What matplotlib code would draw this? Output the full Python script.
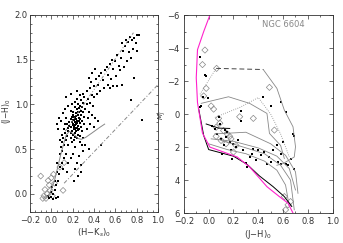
import numpy as np
import matplotlib
matplotlib.use('Agg')
import matplotlib.pyplot as plt
from matplotlib.ticker import MultipleLocator

# ---- left panel: (H-Ks)0 vs (J-H)0 ----
hk_dots = [0.22, 0.20, 0.24, 0.18, 0.26, 0.21, 0.23, 0.19, 0.25, 0.17,
           0.28, 0.27, 0.16, 0.22, 0.20, 0.24, 0.30, 0.29, 0.15, 0.18,
           0.21, 0.25, 0.23, 0.19, 0.26, 0.28, 0.31, 0.32, 0.33, 0.30,
           0.27, 0.25, 0.22, 0.18, 0.14, 0.13, 0.12, 0.14, 0.16, 0.19,
           0.24, 0.27, 0.29, 0.31, 0.34, 0.35, 0.36, 0.34, 0.31, 0.28,
           0.26, 0.23, 0.21, 0.20, 0.22, 0.24, 0.26, 0.19, 0.17, 0.21,
           0.23, 0.25, 0.18, 0.20, 0.22, 0.16, 0.15, 0.13, 0.11, 0.10,
           0.09, 0.12, 0.10, 0.08, 0.07, 0.09, 0.11, 0.13, 0.16, 0.19,
           0.22, 0.24, 0.27, 0.30, 0.33, 0.36, 0.38, 0.40, 0.37, 0.39,
           0.38, 0.41, 0.44, 0.36, 0.40, 0.33, 0.30, 0.27, 0.29, 0.22,
           0.06, 0.05, 0.14, 0.18, 0.24, 0.20, 0.22, 0.25, 0.18, 0.23,
           0.21, 0.23, 0.25, 0.27, 0.24, 0.22, 0.20, 0.26, 0.28, 0.29,
           0.42, 0.45, 0.44, 0.47, 0.50, 0.48, 0.52, 0.55, 0.53, 0.57,
           0.58, 0.60, 0.62, 0.63, 0.65, 0.67, 0.66, 0.69, 0.70, 0.72,
           0.74, 0.76, 0.78, 0.80, 0.82, 0.79, 0.77, 0.73, 0.75, 0.71,
           0.68, 0.64, 0.61, 0.56, 0.53, 0.49, 0.46, 0.43, 0.40, 0.80,
           0.78, 0.75, 0.85, 0.66, 0.62, 0.58, 0.55, 0.35, 0.38, 0.41,
           0.30, 0.26, 0.24, 0.22, 0.25, 0.28, 0.32, 0.35, 0.47, 0.20,
           0.18, 0.16, 0.14, 0.12, 0.10, 0.11, 0.08, 0.07, 0.05, 0.06,
           0.04, 0.03, 0.02, 0.00, -0.02, 0.04, 0.06, 0.01, 0.03, 0.05,
           0.08, 0.10, 0.28, 0.21, 0.15, 0.00, -0.03, 0.02]
jh_dots = [0.80, 0.78, 0.82, 0.75, 0.85, 0.72, 0.90, 0.86, 0.76, 0.80,
           0.88, 0.79, 0.70, 0.68, 0.92, 0.95, 0.92, 0.82, 0.65, 0.62,
           0.60, 0.66, 0.74, 0.70, 0.72, 0.75, 0.86, 0.95, 1.00, 1.02,
           0.98, 1.00, 0.97, 0.93, 0.85, 0.78, 0.72, 0.60, 0.55, 0.58,
           0.62, 0.65, 0.70, 0.78, 0.85, 0.92, 1.02, 1.06, 1.08, 1.05,
           0.92, 0.84, 0.86, 0.83, 0.77, 0.79, 0.81, 0.80, 0.76, 0.75,
           0.70, 0.71, 0.68, 0.66, 0.64, 0.74, 0.78, 0.68, 0.63, 0.58,
           0.52, 0.55, 0.66, 0.60, 0.85, 0.82, 0.90, 0.95, 0.98, 1.00,
           1.03, 1.06, 1.10, 1.12, 1.15, 1.18, 1.10, 1.20, 1.25, 0.98,
           0.88, 0.85, 0.82, 0.78, 0.75, 0.72, 0.62, 0.58, 0.55, 0.53,
           0.72, 0.78, 1.08, 1.12, 1.15, 0.88, 0.85, 0.88, 0.84, 0.78,
           0.83, 0.87, 0.91, 0.84, 0.74, 0.73, 0.77, 0.96, 0.93, 0.97,
           1.28, 1.32, 1.22, 1.35, 1.38, 1.27, 1.42, 1.45, 1.33, 1.50,
           1.40, 1.48, 1.55, 1.43, 1.52, 1.60, 1.68, 1.65, 1.72, 1.70,
           1.75, 1.72, 1.74, 1.77, 1.78, 1.68, 1.62, 1.58, 1.52, 1.48,
           1.42, 1.38, 1.32, 1.28, 1.22, 1.18, 1.15, 1.12, 1.08, 1.60,
           1.30, 1.05, 0.83, 1.22, 1.20, 1.20, 1.18, 1.30, 1.35, 1.40,
           0.48, 0.42, 0.35, 0.28, 0.20, 0.32, 0.55, 0.50, 0.55, 0.45,
           0.40, 0.35, 0.45, 0.40, 0.35, 0.28, 0.30, 0.22, 0.25, 0.15,
           0.10, 0.05, 0.00, -0.03, -0.05, -0.05, -0.03, 0.08, 0.15, 0.35,
           0.45, 0.48, 0.25, 0.15, 0.25, 0.02, -0.02, -0.06]

hk_diam = [-0.10, 0.11, -0.06, -0.05, -0.02, 0.00, 0.02, -0.04, -0.08, 0.01,
           -0.01, 0.03, -0.03, 0.08, 0.12, -0.07]
jh_diam = [0.20, 0.04, 0.05, -0.05, 0.10, 0.18, 0.22, 0.00, -0.05, -0.02,
           0.04, 0.12, 0.15, 0.30, 0.35, -0.02]

locus_hk = [-0.05, -0.02, 0.00, 0.03, 0.06, 0.09, 0.12, 0.14, 0.17, 0.21, 0.25, 0.28, 0.32, 0.38, 0.45, 0.50]
locus_jh = [-0.05, 0.00, 0.05, 0.15, 0.30, 0.45, 0.58, 0.66, 0.70, 0.67, 0.62, 0.61, 0.63, 0.68, 0.74, 0.78]
red_up_hk = [0.13, 0.77]
red_up_jh = [0.70, 1.80]
red_lo_hk = [0.12, 1.00]
red_lo_jh = [0.12, 1.22]

# ---- right panel: (J-H)0 vs M_J ----
zams_jh = [0.01, -0.04, -0.09, -0.10, -0.09, -0.05, 0.01, 0.12, 0.23, 0.33, 0.40, 0.47, 0.57, 0.64, 0.68]
zams_mj = [-6.0, -5.0, -3.9, -2.2, -0.7, 1.15, 2.0, 2.3, 2.6, 3.2, 3.8, 4.4, 5.0, 5.4, 6.0]

iso1_jh = [-0.08, -0.04, 0.00, 0.20, 0.31, 0.41, 0.52, 0.61, 0.67]
iso1_mj = [-0.3, 1.3, 2.15, 2.55, 3.05, 3.75, 4.4, 5.0, 5.6]
iso2_jh = [0.00, 0.15, 0.30, 0.45, 0.55, 0.62, 0.65]
iso2_mj = [1.80, 2.15, 2.40, 2.85, 3.40, 4.30, 5.60]
iso3_jh = [0.02, 0.20, 0.40, 0.55, 0.65, 0.70]
iso3_mj = [1.50, 1.65, 2.05, 2.55, 3.30, 4.60]
iso4_jh = [0.05, 0.30, 0.50, 0.62, 0.70, 0.72]
iso4_mj = [1.20, 1.10, 1.80, 2.50, 3.50, 4.80]
iso5_jh = [0.10, 0.28, 0.45, 0.58, 0.66, 0.69]
iso5_mj = [1.60, 2.00, 2.40, 3.10, 4.00, 5.80]

top_dash_jh = [0.06, 0.44]
top_dash_mj = [-2.77, -2.70]
outer_jh = [0.44, 0.55, 0.61, 0.68, 0.70, 0.69, 0.60, 0.55]
outer_mj = [-2.70, -1.56, -0.24, 0.77, 1.98, 2.60, 3.00, 3.10]
inner_jh = [-0.06, 0.16, 0.33, 0.47, 0.49, 0.58, 0.61]
inner_mj = [-0.65, -1.05, -0.65, -0.04, 1.17, 1.90, 2.69]
dot1_jh = [-0.07, 0.06]
dot1_mj = [-1.20, -2.77]
dot2_jh = [0.05, 0.25, 0.40, 0.50, 0.58, 0.65]
dot2_mj = [0.20, -0.40, -1.00, 0.00, 1.20, 2.60]
bar_jh = [-0.02, 0.08, 0.17]
bar_mj = [0.60, 0.85, 0.87]

mj_dots_jh = [-0.07, -0.03, -0.025, -0.045, -0.005, -0.06, -0.07, 0.08, 0.26, 0.44,
              0.50, 0.58, 0.62, 0.69, 0.55, 0.58, 0.49, 0.50, 0.47, 0.58,
              0.62, 0.69, 0.33, 0.30, 0.28, 0.40, 0.19, 0.12, 0.05, 0.07,
              0.10, 0.14, 0.17, 0.20, 0.03, 0.09, 0.15, 0.22, 0.35, 0.38,
              0.42, 0.45, 0.52, 0.56, 0.64, 0.66, 0.24, 0.18, 0.11, 0.31,
              0.36, 0.60, 0.68, 0.13, 0.26]
mj_dots_mj = [-3.44, -2.36, -2.30, -1.05, -0.99, -0.50, -0.40, 0.20, -0.18, -1.05,
              -0.50, -0.75, -0.12, 1.33, 1.90, 2.40, 2.60, 2.90, 3.00, 3.00,
              3.00, 3.30, 2.60, 2.98, 2.20, 2.20, 2.70, 1.90, 0.90, 1.20,
              1.50, 1.40, 1.70, 1.80, 0.70, 0.60, 1.10, 2.00, 2.40, 2.80,
              2.50, 2.30, 2.20, 2.90, 3.10, 2.70, 1.60, 2.20, 2.40, 3.20,
              2.10, 1.70, 1.20, 0.95, 0.40]

mj_diam_jh = [-0.03, 0.064, -0.02, 0.02, 0.49, 0.36, 0.25, 0.08, 0.09, 0.06,
              0.12, 0.15, 0.17, 0.06, 0.10, 0.14, 0.18, 0.22, 0.20, 0.53,
              0.61, 0.64, -0.05, -0.04, 0.04, 0.62, 0.66]
mj_diam_mj = [-3.88, -2.77, -1.56, -0.49, -1.62, 0.26, 0.16, 0.26, 0.55, 0.80,
              1.00, 1.20, 1.35, 1.35, 1.60, 1.80, 1.50, 1.90, 2.30, 0.97,
              5.00, 5.50, -3.00, -1.10, -0.30, 5.80, 5.30]

plt.rcParams['font.family'] = 'DejaVu Sans'
plt.rcParams['font.size'] = 6
gray = '#888888'
dark = '#333333'

fig = plt.figure(figsize=(3.43, 2.43), dpi=100)
ax1 = fig.add_axes([0.0875, 0.128, 0.373, 0.811])
ax2 = fig.add_axes([0.536, 0.123, 0.434, 0.815])

# left
ax1.plot(locus_hk, locus_jh, color=gray, lw=0.7)
ax1.plot(red_up_hk, red_up_jh, color=gray, lw=0.7, ls=(0, (3, 2, 1, 2, 1, 2)))
ax1.plot(red_lo_hk, red_lo_jh, color=gray, lw=0.7, ls=(0, (4, 2, 1, 2)))
ax1.scatter(hk_diam, jh_diam, s=9, marker='D', facecolors='none', edgecolors=gray, linewidths=0.5)
ax1.scatter(hk_dots, jh_dots, s=4, marker='s', color='black', linewidths=0)
ax1.set_xlim(-0.2, 1.0)
ax1.set_ylim(-0.2, 2.0)
ax1.xaxis.set_major_locator(MultipleLocator(0.2))
ax1.xaxis.set_minor_locator(MultipleLocator(0.05))
ax1.yaxis.set_major_locator(MultipleLocator(0.5))
ax1.yaxis.set_minor_locator(MultipleLocator(0.1))
ax1.set_xlabel('(H$-$K$_s$)$_0$', color=dark, labelpad=1)
ax1.set_ylabel('(J$-$H)$_0$', color=dark, fontsize=5.5)
ax1.yaxis.set_label_coords(-0.135, 0.51)

# right
for xs, ys in [(iso2_jh, iso2_mj), (iso3_jh, iso3_mj), (iso4_jh, iso4_mj), (iso5_jh, iso5_mj)]:
    ax2.plot(xs, ys, color=gray, lw=0.6)
ax2.plot(outer_jh, outer_mj, color=gray, lw=0.6)
ax2.plot(inner_jh, inner_mj, color=gray, lw=0.6)
ax2.plot(top_dash_jh, top_dash_mj, color='#444444', lw=0.7, ls=(0, (5, 3)))
ax2.plot(dot1_jh, dot1_mj, color=gray, lw=0.6, ls=':')
ax2.plot(dot2_jh, dot2_mj, color=gray, lw=0.6, ls=':')
ax2.plot(bar_jh, bar_mj, color='black', lw=0.7)
ax2.plot(iso1_jh, iso1_mj, color='black', lw=0.7)
ax2.plot(zams_jh, zams_mj, color='#ff22cc', lw=0.8)
ax2.scatter(mj_diam_jh, mj_diam_mj, s=10, marker='D', facecolors='none', edgecolors=gray, linewidths=0.5)
ax2.scatter(mj_dots_jh, mj_dots_mj, s=4, marker='s', color='black', linewidths=0)
ax2.set_xlim(-0.2, 1.0)
ax2.set_ylim(6, -6)
ax2.xaxis.set_major_locator(MultipleLocator(0.2))
ax2.xaxis.set_minor_locator(MultipleLocator(0.1))
ax2.yaxis.set_major_locator(MultipleLocator(2))
ax2.yaxis.set_minor_locator(MultipleLocator(1))
ax2.set_xlabel('(J$-$H)$_0$', color=dark, labelpad=1)
ax2.text(0.67, 0.95, 'NGC 6604', transform=ax2.transAxes, color=gray, fontsize=6, ha='center', va='center')
fig.text(162 / 343, 1 - 115 / 243, '$M_J$', rotation=90, fontsize=5, color=dark, ha='center', va='center')

for ax in (ax1, ax2):
    ax.tick_params(which='both', direction='in', top=True, right=True, colors=dark, labelsize=6, pad=3)
    ax.tick_params(which='major', length=3, width=0.5)
    ax.tick_params(which='minor', length=1.5, width=0.5)
    for sp in ax.spines.values():
        sp.set_linewidth(0.6)
        sp.set_color(dark)
ax1.tick_params(axis='y', pad=1.5)

fig.savefig('out.png', dpi=100)
